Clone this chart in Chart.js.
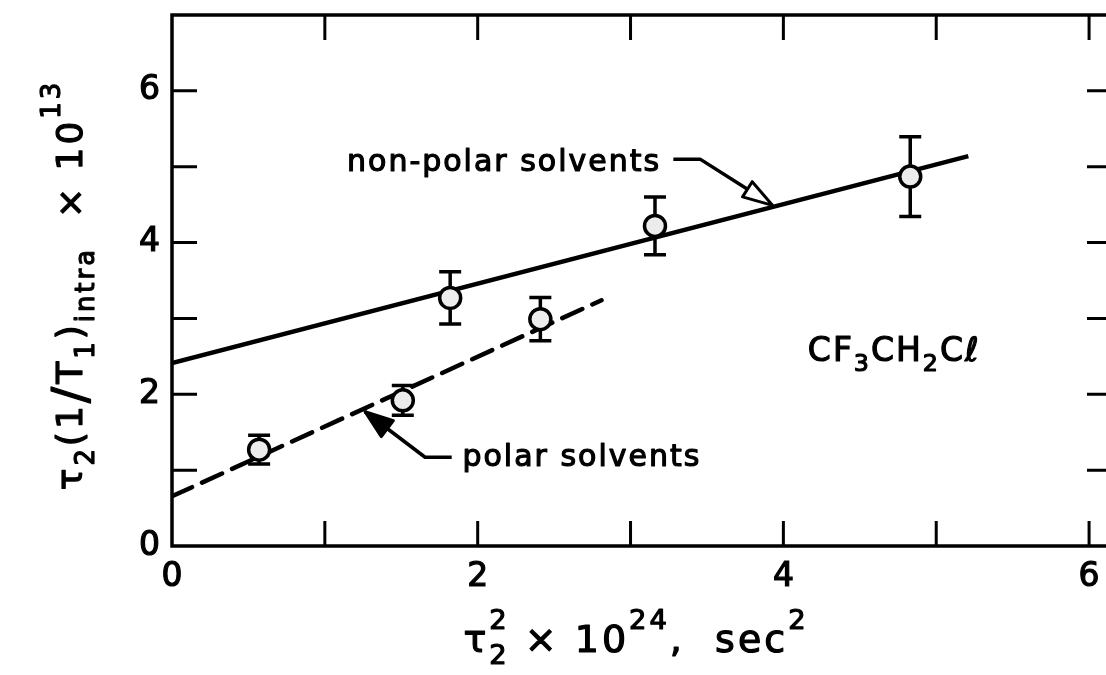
<!DOCTYPE html>
<html>
<head>
<meta charset="utf-8">
<script src="https://cdn.jsdelivr.net/npm/chart.js@4"></script>
<style>
  html, body { margin: 0; padding: 0; background: #fff; overflow: hidden; }
  #wrap { width: 1106px; height: 675px; overflow: hidden; }
  canvas { display: block; }
</style>
</head>
<body>
<div id="wrap"><canvas id="chart" width="1126" height="675"></canvas></div>
<script>
// measured points (x = tau2^2 * 1e24, y = tau2 (1/T1)intra * 1e13)
const nonPolarX = [1.82, 3.16, 4.83];
const nonPolarY = [3.27, 4.22, 4.87];
const nonPolarErr = [0.345, 0.38, 0.525];

const polarX = [0.57, 1.51, 2.41];
const polarY = [1.27, 1.92, 2.99];
const polarErr = [0.19, 0.195, 0.285];

// straight-line fits, end points
const nonPolarFitX = [0, 5.21];
const nonPolarFitY = [2.41, 5.14];
const polarFitX = [0, 2.81];
const polarFitY = [0.655, 3.24];

// axis ranges and labelled ticks
const xTickLabels = [0, 2, 4, 6];
const yTickLabels = [0, 2, 4, 6];
const xMinor = [1, 2, 3, 4, 5, 6];
const yMinor = [1, 2, 3, 4, 5, 6];

const FONT = '"DejaVu Sans", sans-serif';

function pts(xs, ys) {
  return xs.map((x, i) => ({ x: x, y: ys[i] }));
}

// fill plus a thin outline so the lettering reads a bit heavier
function inkText(ctx, txt, x, y) {
  ctx.fillText(txt, x, y);
  ctx.strokeText(txt, x, y);
}

// draw a run of text pieces, some of them sub/superscripts
function richText(ctx, parts, x, y, size, measureOnly) {
  let cx = x;
  parts.forEach(p => {
    const txt = p[0], kind = p[1] || '', stay = p[2];
    let s = size, dy = 0;
    if (kind === 'sub') { s = size * 0.72; dy = size * 0.32; }
    if (kind === 'sup') { s = size * 0.72; dy = -size * 0.6; }
    if (kind === 'big') { s = size * 1.35; dy = size * 0.12; }
    ctx.font = s + 'px ' + FONT;
    if (!measureOnly) inkText(ctx, txt, cx, y + dy);
    if (!stay) cx += ctx.measureText(txt).width;
  });
  return cx - x;
}

function arrowHead(ctx, fromX, fromY, tipX, tipY, len, half, filled) {
  const dx = tipX - fromX, dy = tipY - fromY;
  const d = Math.hypot(dx, dy);
  const ux = dx / d, uy = dy / d;
  const bx = tipX - ux * len, by = tipY - uy * len;
  ctx.beginPath();
  ctx.moveTo(tipX, tipY);
  ctx.lineTo(bx - uy * half, by + ux * half);
  ctx.lineTo(bx + uy * half, by - ux * half);
  ctx.closePath();
  ctx.fillStyle = filled ? '#000' : '#fff';
  ctx.fill();
  ctx.lineWidth = 3;
  ctx.stroke();
  ctx.fillStyle = '#000';
}

const errorBars = {
  id: 'errorBars',
  beforeDatasetsDraw(chart) {
    const { ctx, scales: { x, y } } = chart;
    ctx.save();
    ctx.strokeStyle = '#000';
    ctx.lineWidth = 3.5;
    const draw = (xs, ys, es) => {
      xs.forEach((v, i) => {
        const px = x.getPixelForValue(v);
        const top = y.getPixelForValue(ys[i] + es[i]);
        const bot = y.getPixelForValue(ys[i] - es[i]);
        ctx.beginPath();
        ctx.moveTo(px, top); ctx.lineTo(px, bot);
        ctx.moveTo(px - 11, top); ctx.lineTo(px + 11, top);
        ctx.moveTo(px - 11, bot); ctx.lineTo(px + 11, bot);
        ctx.stroke();
      });
    };
    draw(nonPolarX, nonPolarY, nonPolarErr);
    draw(polarX, polarY, polarErr);
    ctx.restore();
  }
};

const frameAndNotes = {
  id: 'frameAndNotes',
  afterDatasetsDraw(chart) {
    const { ctx, chartArea: a, scales: { x, y } } = chart;
    ctx.save();
    ctx.strokeStyle = '#000';
    ctx.fillStyle = '#000';

    // box
    ctx.lineWidth = 3.5;
    ctx.strokeRect(a.left, a.top, a.right - a.left, a.bottom - a.top);

    // inward tick marks on all four sides
    const tl = 25;
    ctx.lineWidth = 3;
    ctx.beginPath();
    xMinor.forEach(v => {
      const px = x.getPixelForValue(v);
      ctx.moveTo(px, a.bottom); ctx.lineTo(px, a.bottom - tl);
      ctx.moveTo(px, a.top); ctx.lineTo(px, a.top + tl);
    });
    yMinor.forEach(v => {
      const py = y.getPixelForValue(v);
      ctx.moveTo(a.left, py); ctx.lineTo(a.left + tl, py);
      ctx.moveTo(a.right, py); ctx.lineTo(a.right - tl, py);
    });
    ctx.stroke();

    ctx.textBaseline = 'alphabetic';
    ctx.textAlign = 'left';
    ctx.letterSpacing = '2px';
    ctx.lineJoin = 'round';

    // non-polar label with open arrow onto the solid line
    ctx.lineWidth = 1.2;
    ctx.font = '30px ' + FONT;
    inkText(ctx, 'non-polar solvents', x.getPixelForValue(1.145), y.getPixelForValue(4.95));
    const n0 = [x.getPixelForValue(3.28), y.getPixelForValue(5.10)];
    const n1 = [x.getPixelForValue(3.455), y.getPixelForValue(5.10)];
    const n2 = [x.getPixelForValue(3.93), y.getPixelForValue(4.49)];
    ctx.lineWidth = 3.5;
    ctx.beginPath();
    ctx.moveTo(n0[0], n0[1]); ctx.lineTo(n1[0], n1[1]); ctx.lineTo(n2[0] - 20, n2[1] - 13);
    ctx.stroke();
    arrowHead(ctx, n1[0], n1[1], n2[0], n2[1], 30, 9, false);

    // polar label with solid arrow onto the dashed line
    ctx.lineWidth = 1.2;
    ctx.font = '30px ' + FONT;
    inkText(ctx, 'polar solvents', x.getPixelForValue(1.90), y.getPixelForValue(1.05));
    const p0 = [x.getPixelForValue(1.83), y.getPixelForValue(1.17)];
    const p1 = [x.getPixelForValue(1.656), y.getPixelForValue(1.17)];
    const p2 = [x.getPixelForValue(1.263), y.getPixelForValue(1.77)];
    ctx.lineWidth = 3.5;
    ctx.beginPath();
    ctx.moveTo(p0[0], p0[1]); ctx.lineTo(p1[0], p1[1]); ctx.lineTo(p2[0], p2[1]);
    ctx.stroke();
    arrowHead(ctx, p1[0], p1[1], p2[0], p2[1], 28, 10, true);

    // compound name
    ctx.lineWidth = 1.2;
    richText(ctx, [['CF'], ['3', 'sub'], ['CH'], ['2', 'sub'], ['C'], ['\u2113']],
      x.getPixelForValue(4.16), y.getPixelForValue(2.44), 33);

    // x axis title
    ctx.letterSpacing = '3px';
    const xParts = [['\u03c4'], ['2', 'sub', true], ['2', 'sup'], [' \u00d7 10'], ['24', 'sup'], [',  sec'], ['2', 'sup']];
    const xw = richText(ctx, xParts, 0, 0, 38, true);
    richText(ctx, xParts, 636 - xw / 2, 652, 38);

    // y axis title, rotated
    const yParts = [['\u03c4'], ['2', 'sub'], ['(1'], ['/', 'big'], ['T'], ['1', 'sub'], [')'], ['intra', 'sub'], ['  \u00d7 10'], ['13', 'sup']];
    const yw = richText(ctx, yParts, 0, 0, 36, true);
    ctx.translate(82, 285);
    ctx.rotate(-Math.PI / 2);
    richText(ctx, yParts, -yw / 2, 0, 36);

    ctx.restore();
  }
};

// drop the extra room Chart.js keeps for end labels so the plot box fills the page
function noEdgePadding(s) {
  s.paddingTop = 0; s.paddingBottom = 0;
  s.paddingLeft = 0; s.paddingRight = 0;
}

const tickFont = { family: FONT, size: 33 };

new Chart(document.getElementById('chart'), {
  data: {
    datasets: [
      {
        type: 'scatter',
        label: 'non-polar solvents',
        data: pts(nonPolarX, nonPolarY),
        pointRadius: 10.5,
        pointBorderWidth: 3.5,
        pointBackgroundColor: '#ececec',
        pointBorderColor: '#000'
      },
      {
        type: 'scatter',
        label: 'polar solvents',
        data: pts(polarX, polarY),
        pointRadius: 10.5,
        pointBorderWidth: 3.5,
        pointBackgroundColor: '#ececec',
        pointBorderColor: '#000'
      },
      {
        type: 'line',
        label: 'non-polar fit',
        data: pts(nonPolarFitX, nonPolarFitY),
        borderColor: '#000',
        borderWidth: 4.5,
        pointRadius: 0,
        fill: false
      },
      {
        type: 'line',
        label: 'polar fit',
        data: pts(polarFitX, polarFitY),
        borderColor: '#000',
        borderWidth: 4.5,
        borderDash: [22, 11],
        borderCapStyle: 'round',
        pointRadius: 0,
        fill: false
      }
    ]
  },
  options: {
    responsive: false,
    animation: false,
    devicePixelRatio: 1,
    layout: { padding: { top: 15, right: 4, left: 0, bottom: 0 } },
    plugins: { legend: { display: false }, tooltip: { enabled: false } },
    scales: {
      x: {
        type: 'linear',
        min: 0,
        max: 6.15,
        grid: { display: false, drawTicks: false },
        border: { display: false },
        ticks: {
          stepSize: 2,
          includeBounds: false,
          autoSkip: false,
          maxRotation: 0,
          padding: 12,
          color: '#000',
          font: tickFont,
          textStrokeColor: '#000',
          textStrokeWidth: 1.2,
          callback: v => xTickLabels.includes(v) ? String(v) : ''
        },
        afterFit: s => { s.height = 129; noEdgePadding(s); }
      },
      y: {
        type: 'linear',
        min: 0,
        max: 7,
        grid: { display: false, drawTicks: false },
        border: { display: false },
        ticks: {
          stepSize: 2,
          includeBounds: false,
          autoSkip: false,
          padding: 12,
          color: '#000',
          font: tickFont,
          textStrokeColor: '#000',
          textStrokeWidth: 1.2,
          callback: v => yTickLabels.includes(v) ? String(v) : ''
        },
        afterFit: s => { s.width = 172; noEdgePadding(s); }
      }
    }
  },
  plugins: [errorBars, frameAndNotes]
});
</script>
</body>
</html>
